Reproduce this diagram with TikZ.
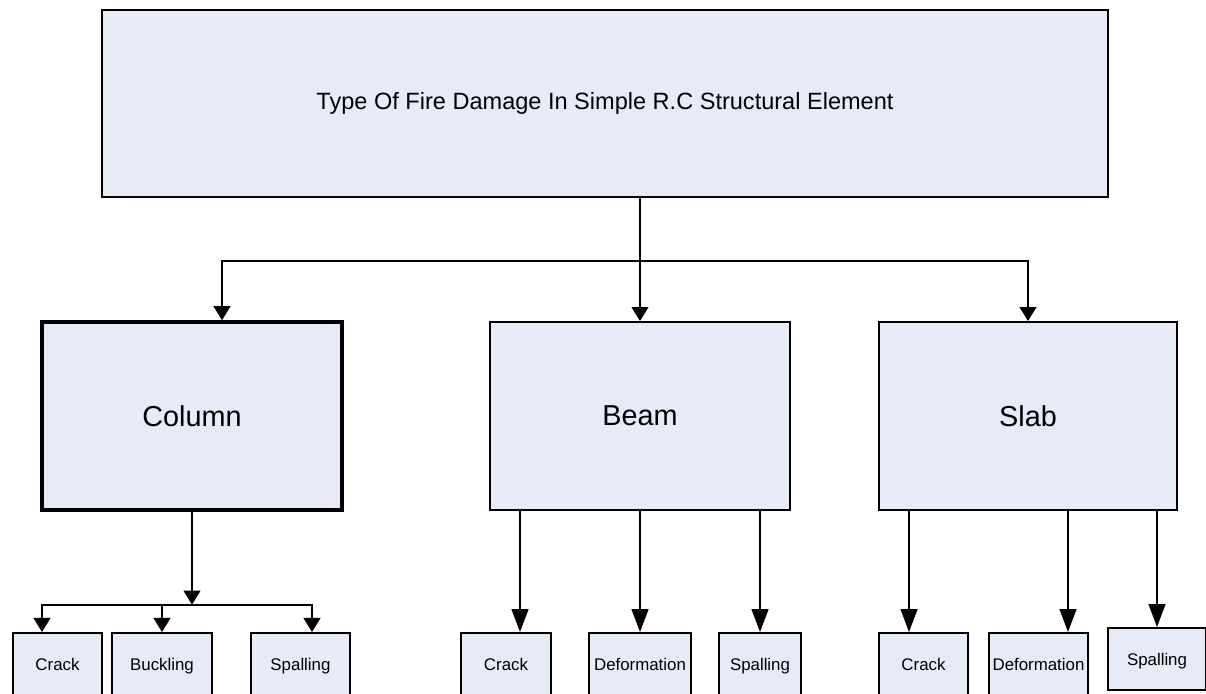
\documentclass[tikz,border=0pt]{standalone}
\usepackage{fontspec}
\setmainfont{Liberation Sans}
\usetikzlibrary{arrows.meta}
\definecolor{boxfill}{RGB}{231,235,247}

\begin{document}
\begin{tikzpicture}[x=0.02cm,y=-0.02cm,line cap=rect,
        box/.style={draw,line width=1.1pt,fill=boxfill,inner sep=0pt},
        bigtext/.style={font=\fontsize{16.4}{19}\selectfont},
        smalltext/.style={font=\fontsize{9.6}{11}\selectfont,text height=1.6ex,text depth=0.3ex},
        arr/.style={line width=1.1pt,-{Triangle[length=8pt,width=9.5pt]}},
        longarr/.style={line width=1.1pt,-{Triangle[length=13pt,width=9.5pt]}}]
        \useasboundingbox (0,0) rectangle (1206,693);
        \clip (0,0) rectangle (1206,693);
        % top box
        \node[box,minimum width=20.12cm,minimum height=3.74cm,
            font=\fontsize{13.4}{16}\selectfont] (title) at (605,103.5)
            {Type Of Fire Damage In Simple R.C Structural Element};
        % elements
        \node[box,line width=2pt,bigtext,minimum width=6cm,minimum height=3.76cm] (column) at (192,416) {Column};
        \node[box,bigtext,minimum width=6cm,minimum height=3.76cm] (beam) at (640,416) {Beam};
        \node[box,bigtext,minimum width=5.96cm,minimum height=3.76cm] (slab) at (1028,416) {Slab};
        % damage types
        \node[box,smalltext,minimum width=1.78cm,minimum height=1.24cm] (ccrack) at (57.5,664) {Crack};
        \node[box,smalltext,minimum width=2cm,minimum height=1.24cm] (cbuck) at (162,664) {Buckling};
        \node[box,smalltext,minimum width=1.98cm,minimum height=1.24cm] (cspall) at (300.5,664) {Spalling};
        \node[box,smalltext,minimum width=1.8cm,minimum height=1.24cm] (bcrack) at (506,664) {Crack};
        \node[box,smalltext,minimum width=2.04cm,minimum height=1.24cm] (bdef) at (640,664) {Deformation};
        \node[box,smalltext,minimum width=1.64cm,minimum height=1.24cm] (bspall) at (760,664) {Spalling};
        \node[box,smalltext,minimum width=1.78cm,minimum height=1.24cm] (scrack) at (923.5,664) {Crack};
        \node[box,smalltext,minimum width=1.98cm,minimum height=1.24cm] (sdef) at (1038.5,664) {Deformation};
        \node[box,smalltext,minimum width=1.96cm,minimum height=1.24cm] (sspall) at (1157,659) {Spalling};
        % entry points
        \coordinate (topbar) at ([yshift=-1.26cm]title.south);
        \coordinate (colbar) at ([yshift=-1.86cm]column.south);
        \coordinate (column-in) at ([xshift=0.6cm]column.north);
        \coordinate (ccrack-in) at ([xshift=-0.31cm]ccrack.north);
        \coordinate (cbuck-in) at (cbuck.north);
        \coordinate (cspall-in) at ([xshift=0.23cm]cspall.north);
        \coordinate (bcrack-in) at ([xshift=0.28cm]bcrack.north);
        \coordinate (bdef-in) at (bdef.north);
        \coordinate (bspall-in) at (bspall.north);
        \coordinate (scrack-in) at ([xshift=-0.29cm]scrack.north);
        \coordinate (sdef-in) at ([xshift=0.59cm]sdef.north);
        \coordinate (sspall-in) at (sspall.north);
        % connectors
        \draw[line width=1.1pt] (title.south -| beam.north) -- (topbar -| beam.north);
        \draw[arr] (column-in |- topbar) -- (slab.north |- topbar) -- (slab.north);
        \draw[arr] (column-in |- topbar) -- (column-in);
        \draw[arr] (topbar -| beam.north) -- (beam.north);
        \draw[arr] (column.south) -- (colbar);
        \draw[arr] (cspall-in |- colbar) -- (ccrack-in |- colbar) -- (ccrack-in);
        \foreach \n in {cbuck,cspall}
            \draw[arr] (\n-in |- colbar) -- (\n-in);
        \foreach \n in {bcrack,bdef,bspall}
            \draw[longarr] (\n-in |- beam.south) -- (\n-in);
        \foreach \n in {scrack,sdef,sspall}
            \draw[longarr] (\n-in |- slab.south) -- (\n-in);
\end{tikzpicture}
\end{document}
